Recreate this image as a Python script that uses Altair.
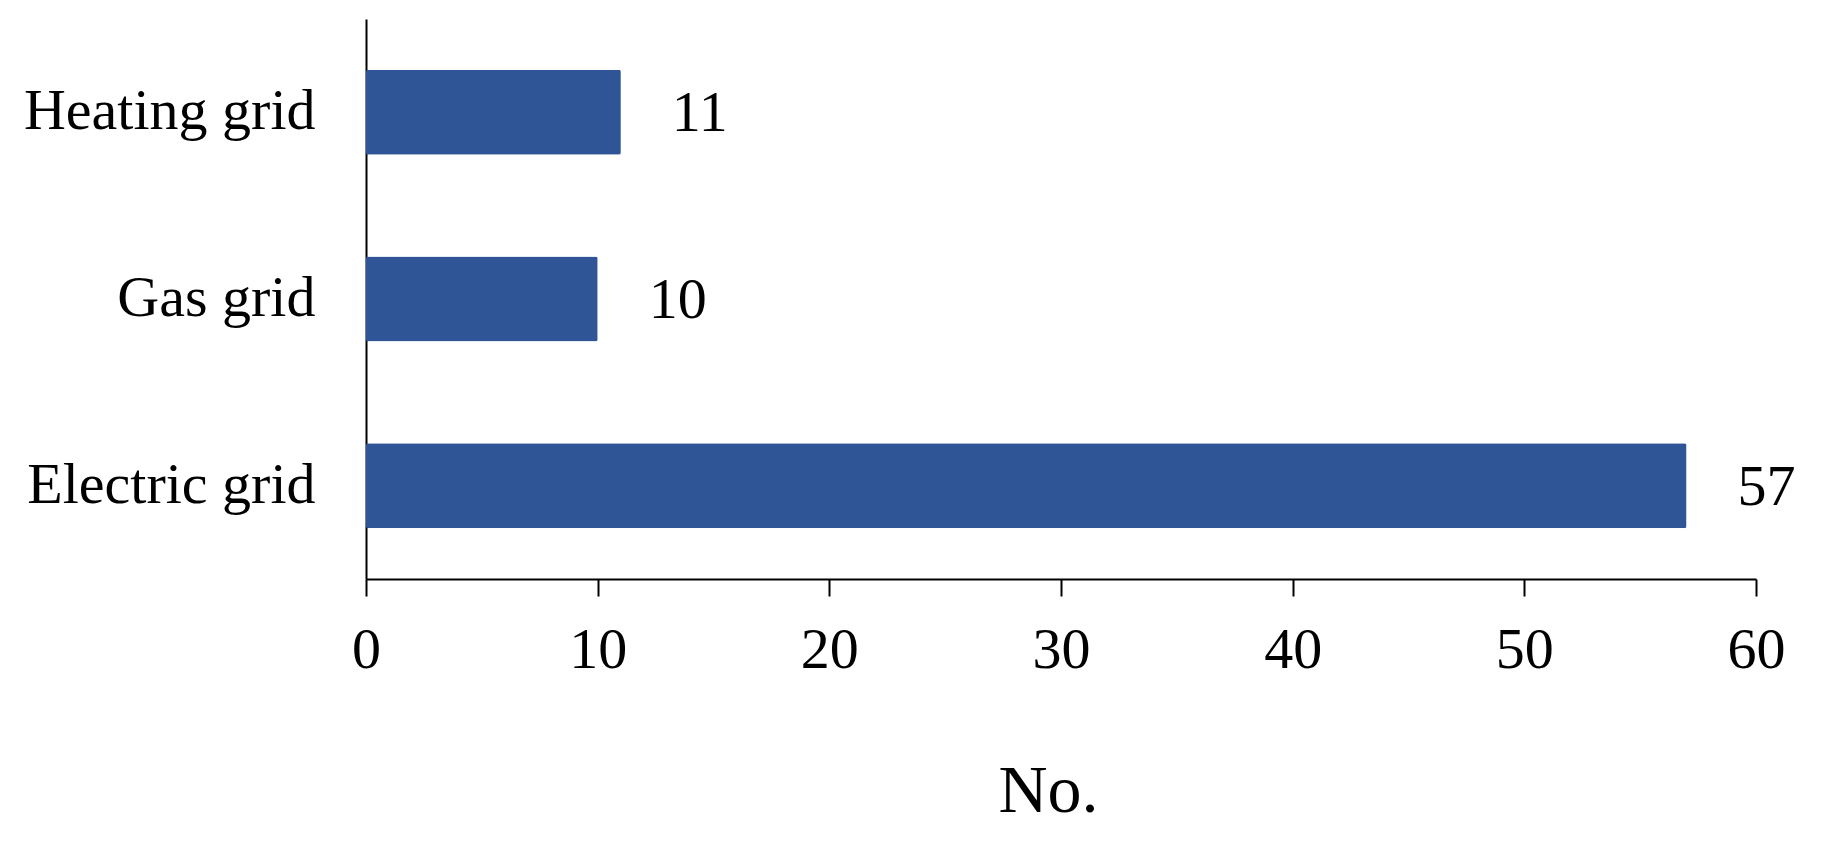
import altair as alt
import pandas as pd

categories = ["Heating grid", "Gas grid", "Electric grid"]
counts = [11, 10, 57]
x_ticks = [0, 10, 20, 30, 40, 50, 60]

df = pd.DataFrame({"cat": categories, "n": counts})

FONT = "Liberation Serif"
FS = 58

y_enc = alt.Y("cat:N", sort=categories, title=None,
              scale=alt.Scale(paddingInner=0.545, paddingOuter=0.2725),
              axis=alt.Axis(labelFont=FONT, labelFontSize=FS, labelColor="black",
                            ticks=False, labelPadding=51, domainColor="black",
                            domainWidth=2, grid=False, labelLimit=0))
x_enc = alt.X("n:Q", title="No.",
              scale=alt.Scale(domain=[0, 60], nice=False),
              axis=alt.Axis(values=x_ticks, labelFont=FONT, labelFontSize=FS,
                            labelColor="black", tickSize=17, tickColor="black",
                            tickWidth=2, domainColor="black", domainWidth=2,
                            labelPadding=25, grid=False, titleFont=FONT,
                            titleFontSize=68, titleFontWeight="normal",
                            titleColor="black", titlePadding=78,
                            titleX=682, titleAlign="center",
                            labelFlush=False))

bars = alt.Chart(df).mark_bar(color="#2F5597", cornerRadius=2).encode(x=x_enc, y=y_enc)
labels = alt.Chart(df).mark_text(align="left", baseline="middle", dx=51, dy=2,
                                 font=FONT, fontSize=FS, color="black").encode(
    x=x_enc, y=y_enc, text="n:Q")

chart = (bars + labels).properties(
    width=1390, height=560,
    background="white",
    autosize=alt.AutoSizeParams(type="none"),
    padding={"left": 358, "top": 11, "right": 55, "bottom": 258},
).configure_view(strokeWidth=0, stroke="transparent")

chart.save("out.html", embed_options={"renderer": "svg", "actions": False})
